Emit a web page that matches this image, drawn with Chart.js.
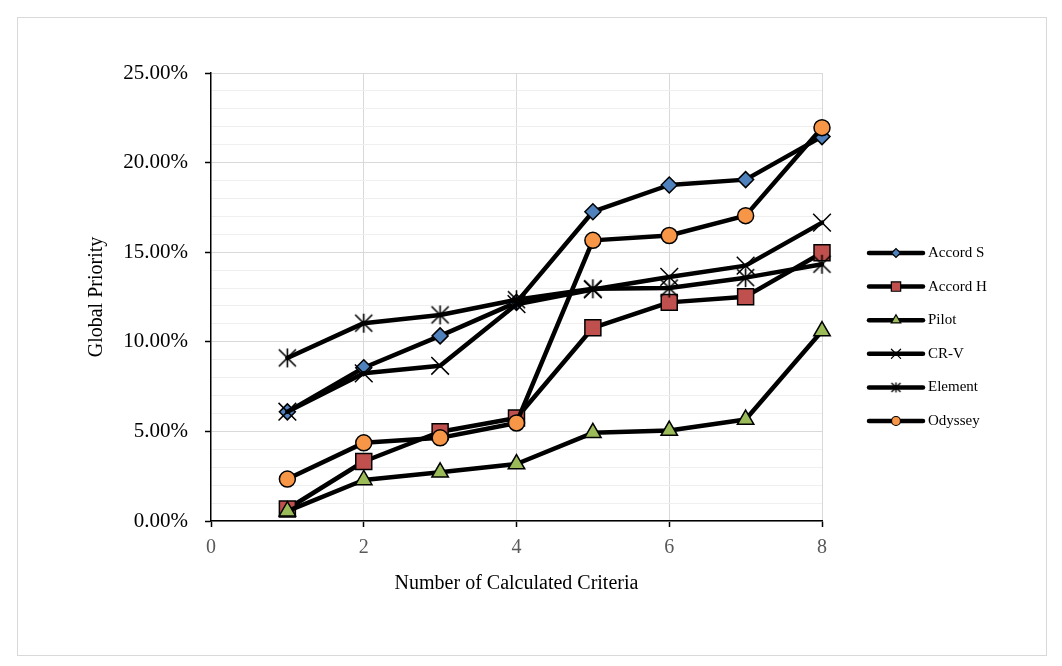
<!DOCTYPE html>
<html>
<head>
<meta charset="utf-8">
<script src="https://cdn.jsdelivr.net/npm/chart.js@4"></script>
<style>
html, body { margin: 0; padding: 0; background: #fff; }
#box { position: absolute; left: 17px; top: 17px; width: 1028px; height: 637px; border: 1px solid #d9d9d9; }
canvas { display: block; }
</style>
</head>
<body>
<div id="box"><canvas id="chart" width="1028" height="637"></canvas></div>
<script>
// Global priority (%) by number of calculated criteria
const criteria = [1, 2, 3, 4, 5, 6, 7, 8];
const seriesNames = ['Accord S', 'Accord H', 'Pilot', 'CR-V', 'Element', 'Odyssey'];
const accordS = [6.09, 8.55, 10.33, 12.2, 17.26, 18.75, 19.05, 21.45];
const accordH = [0.67, 3.32, 4.98, 5.75, 10.78, 12.2, 12.52, 14.97];
const pilot = [0.55, 2.29, 2.72, 3.18, 4.92, 5.05, 5.66, 10.6];
const crv = [6.1, 8.24, 8.66, 12.1, 12.92, 13.62, 14.25, 16.65];
const element = [9.1, 11.04, 11.5, 12.35, 12.96, 13.0, 13.58, 14.33];
const odyssey = [2.34, 4.36, 4.64, 5.47, 15.66, 15.93, 17.04, 21.95];
const xTicks = [0, 2, 4, 6, 8];

const FONT = "'Liberation Serif', 'Times New Roman', serif";

// Excel style asterisk marker (X plus a vertical stroke)
function makeAsterisk(half, lw) {
    const c = document.createElement('canvas');
    const s = Math.ceil(half * 2 + lw * 2 + 2);
    c.width = s; c.height = s;
    const g = c.getContext('2d');
    const m = s / 2;
    const d = half * 0.9;
    g.strokeStyle = '#000';
    g.lineWidth = lw;
    g.beginPath();
    g.moveTo(m - d, m - d); g.lineTo(m + d, m + d);
    g.moveTo(m + d, m - d); g.lineTo(m - d, m + d);
    g.moveTo(m, m - half); g.lineTo(m, m + half);
    g.stroke();
    return c;
}
const starBig = makeAsterisk(9.5, 1.6);
const starSmall = makeAsterisk(5, 1.4);

const styles = [
    { style: 'rectRot', r: 8, fill: '#4f81bd', lr: 4.5 },
    { style: 'rect', r: 11.3, fill: '#c0504d', lr: 6.6 },
    { style: 'triangle', r: 9.5, fill: '#9bbb59', lr: 5.5 },
    { style: 'crossRot', r: 12.5, fill: '#000', lr: 6.5 },
    { style: starBig, r: 10, fill: '#000', lr: 5, small: starSmall },
    { style: 'circle', r: 8, fill: '#f79646', lr: 4.5 }
];
const values = [accordS, accordH, pilot, crv, element, odyssey];

const datasets = seriesNames.map((name, i) => ({
    label: name,
    data: criteria.map((x, j) => ({ x: x, y: values[i][j] })),
    showLine: true,
    clip: false,
    borderColor: '#000',
    borderWidth: 4.5,
    borderJoinStyle: 'round',
    borderCapStyle: 'round',
    pointStyle: styles[i].style,
    pointRadius: styles[i].r,
    pointBackgroundColor: styles[i].fill,
    pointBorderColor: '#000',
    pointBorderWidth: 1.5,
    order: seriesNames.length - i
}));

// legend drawn on the right, line with a small marker in the middle
const sideLegend = {
    id: 'sideLegend',
    afterDraw(chart) {
        const ctx = chart.ctx;
        const x0 = 851, x1 = 905, tx = 910;
        seriesNames.forEach((name, i) => {
            const y = 235 + i * 33.6;
            ctx.save();
            ctx.strokeStyle = '#000';
            ctx.lineWidth = 4.5;
            ctx.lineCap = 'round';
            ctx.beginPath();
            ctx.moveTo(x0, y); ctx.lineTo(x1, y);
            ctx.stroke();
            ctx.fillStyle = styles[i].fill;
            ctx.strokeStyle = '#000';
            ctx.lineWidth = 1.2;
            Chart.helpers.drawPoint(ctx, {
                pointStyle: styles[i].small || styles[i].style,
                radius: styles[i].lr,
                borderWidth: 1.2,
                rotation: 0
            }, (x0 + x1) / 2, y);
            ctx.fillStyle = '#000';
            ctx.font = '15px ' + FONT;
            ctx.textBaseline = 'middle';
            ctx.textAlign = 'left';
            ctx.fillText(name, tx, y);
            ctx.restore();
        });
    }
};

const config = {
    type: 'scatter',
    data: { datasets: datasets },
    options: {
        responsive: false,
        animation: false,
        layout: { padding: { left: 67, right: 224, top: 55, bottom: 59 } },
        plugins: {
            legend: { display: false },
            tooltip: { enabled: false }
        },
        scales: {
            x: {
                type: 'linear',
                min: 0,
                max: 8,
                afterBuildTicks: s => { s.ticks = xTicks.map(v => ({ value: v })); },
                afterFit: s => { s.height = 75; },
                ticks: { color: '#595959', font: { family: FONT, size: 20 }, padding: 9 },
                grid: {
                    color: c => (c.tick && c.tick.value === 0) ? 'rgba(0,0,0,0)' : '#d9d9d9',
                    lineWidth: 1,
                    tickColor: '#000',
                    tickLength: 6,
                    tickWidth: 1.5
                },
                border: { color: '#000', width: 1.5 },
                title: { display: true, text: 'Number of Calculated Criteria', color: '#000', font: { family: FONT, size: 20 }, padding: 0 }
            },
            y: {
                min: 0,
                max: 25,
                afterFit: s => { s.width = 126; },
                ticks: {
                    stepSize: 1,
                    autoSkip: false,
                    color: '#000',
                    font: { family: FONT, size: 21 },
                    padding: 17,
                    callback: v => (Math.round(v) % 5 === 0) ? v.toFixed(2) + '%' : ''
                },
                grid: {
                    color: c => (c.tick && Math.round(c.tick.value) % 5 === 0) ? '#d9d9d9' : '#efefef',
                    lineWidth: 1,
                    tickColor: c => (c.tick && Math.round(c.tick.value) % 5 === 0) ? '#000' : 'rgba(0,0,0,0)',
                    tickLength: 6,
                    tickWidth: 1.5
                },
                border: { color: '#000', width: 1.5 },
                title: { display: true, text: 'Global Priority', color: '#000', font: { family: FONT, size: 20 }, padding: 0 }
            }
        }
    },
    plugins: [sideLegend]
};

new Chart(document.getElementById('chart').getContext('2d'), config);
</script>
</body>
</html>
